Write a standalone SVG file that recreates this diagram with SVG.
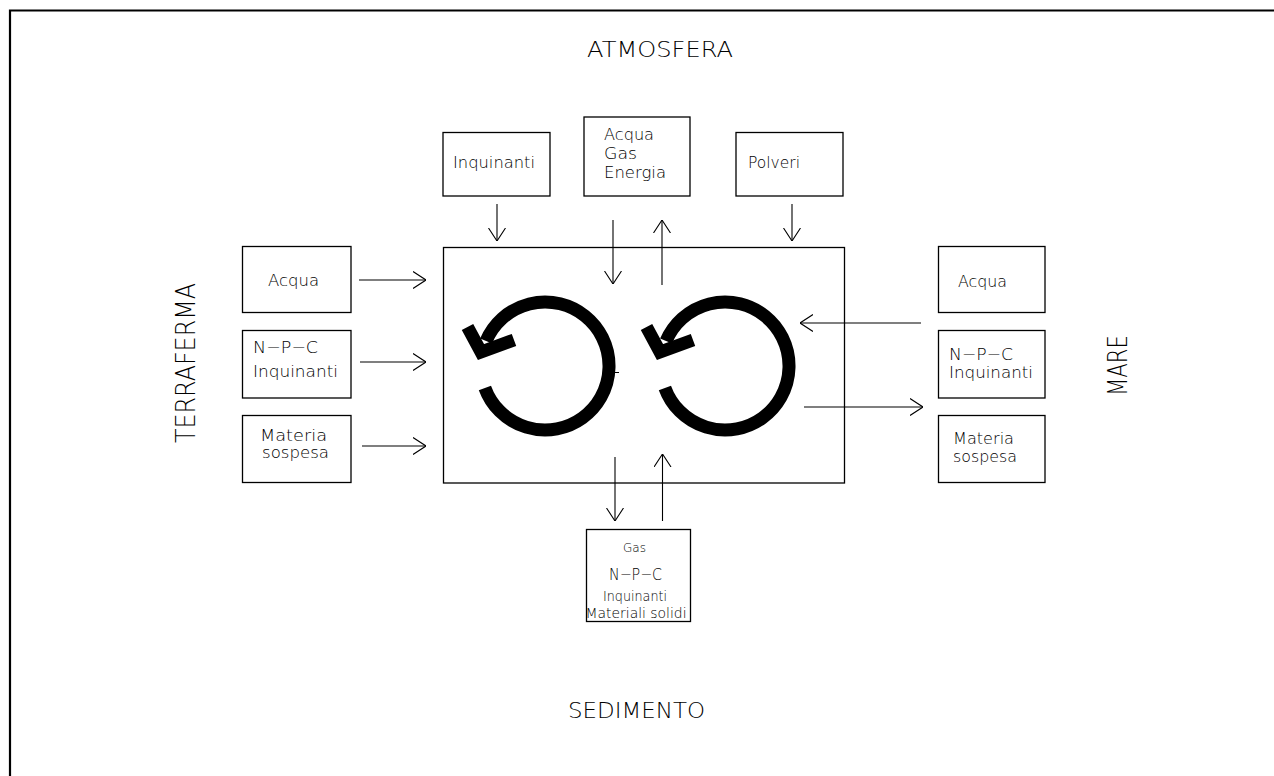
<svg xmlns="http://www.w3.org/2000/svg" width="1274" height="776" viewBox="0 0 1274 776">
<style>
.box{fill:none;stroke:#000;stroke-width:1.3}
.t{font-family:"DejaVu Sans","Liberation Sans",Arial,sans-serif;font-weight:200;fill:#000}
.c{fill:none;stroke:#000;stroke-width:1.1}
.cyc{fill:none;stroke:#000;stroke-width:13}
</style>
<defs>
<marker id="ah" markerUnits="userSpaceOnUse" viewBox="0 0 13 18" refX="13" refY="9" markerWidth="13" markerHeight="18" orient="auto">
<path d="M0,0.5 L13,9 L0,17.5" fill="none" stroke="#000" stroke-width="1.1"/>
</marker>
</defs>
<rect width="1274" height="776" fill="#fff"/>
<path d="M10,776 V10.5 H1274" fill="none" stroke="#000" stroke-width="2.2"/>

<text class="t" x="587" y="57" font-size="21" textLength="146" lengthAdjust="spacingAndGlyphs">ATMOSFERA</text>
<text class="t" x="568" y="718" font-size="21" textLength="137" lengthAdjust="spacingAndGlyphs">SEDIMENTO</text>
<text class="t" transform="translate(195,363) rotate(-90)" text-anchor="middle" font-size="27" textLength="160" lengthAdjust="spacingAndGlyphs">TERRAFERMA</text>
<text class="t" transform="translate(1127,365.5) rotate(-90)" text-anchor="middle" font-size="27" textLength="61" lengthAdjust="spacingAndGlyphs">MARE</text>

<g id="ecosistema">
<rect class="box" x="443.5" y="247.5" width="401" height="235.5"/>
<path class="cyc" d="M484.9,387.9 A64,64 0 1 0 486.1,341"/>
<polyline class="cyc" points="467.5,327 481,352 514,340" stroke-linejoin="miter"/>
<path class="cyc" d="M664.9,387.9 A64,64 0 1 0 666.1,341"/>
<polyline class="cyc" points="646.5,327 660,352 693,340" stroke-linejoin="miter"/>
<line x1="613" y1="372.5" x2="619" y2="372.5" stroke="#000" stroke-width="1"/>
</g>

<g id="atm-inquinanti">
<rect class="box" x="443" y="132.5" width="107" height="63.5"/>
<text class="t" x="453" y="168" font-size="16" textLength="82" lengthAdjust="spacingAndGlyphs">Inquinanti</text>
</g>
<g id="atm-acqua-gas-energia">
<rect class="box" x="584" y="117" width="106" height="79"/>
<text class="t" x="604" y="140" font-size="16" textLength="50" lengthAdjust="spacingAndGlyphs">Acqua</text>
<text class="t" x="604" y="158.5" font-size="16" textLength="33" lengthAdjust="spacingAndGlyphs">Gas</text>
<text class="t" x="604" y="177.5" font-size="16" textLength="62" lengthAdjust="spacingAndGlyphs">Energia</text>
</g>
<g id="atm-polveri">
<rect class="box" x="736" y="132.5" width="107" height="63.5"/>
<text class="t" x="748" y="168" font-size="16" textLength="52" lengthAdjust="spacingAndGlyphs">Polveri</text>
</g>

<g id="terra-acqua">
<rect class="box" x="242.5" y="246.5" width="108.5" height="66"/>
<text class="t" x="268" y="285.5" font-size="16" textLength="51" lengthAdjust="spacingAndGlyphs">Acqua</text>
</g>
<g id="terra-npc">
<rect class="box" x="242.5" y="330.5" width="108.5" height="67.5"/>
<text class="t" x="253" y="353" font-size="16" textLength="65" lengthAdjust="spacingAndGlyphs">N−P−C</text>
<text class="t" x="253" y="377" font-size="16" textLength="85" lengthAdjust="spacingAndGlyphs">Inquinanti</text>
</g>
<g id="terra-materia">
<rect class="box" x="242.5" y="415.5" width="108.5" height="67"/>
<text class="t" x="260" y="440.5" font-size="16" textLength="67" lengthAdjust="spacingAndGlyphs">Materia</text>
<text class="t" x="262" y="458" font-size="16" textLength="67" lengthAdjust="spacingAndGlyphs">sospesa</text>
</g>

<g id="mare-acqua">
<rect class="box" x="938.5" y="246.5" width="106.5" height="66"/>
<text class="t" x="958" y="287" font-size="16" textLength="49" lengthAdjust="spacingAndGlyphs">Acqua</text>
</g>
<g id="mare-npc">
<rect class="box" x="938.5" y="330.5" width="106.5" height="67.5"/>
<text class="t" x="949" y="360" font-size="16" textLength="64" lengthAdjust="spacingAndGlyphs">N−P−C</text>
<text class="t" x="949" y="378" font-size="16" textLength="84" lengthAdjust="spacingAndGlyphs">Inquinanti</text>
</g>
<g id="mare-materia">
<rect class="box" x="938.5" y="415.5" width="106.5" height="67"/>
<text class="t" x="953" y="444" font-size="15" textLength="61" lengthAdjust="spacingAndGlyphs">Materia</text>
<text class="t" x="953" y="461.5" font-size="15" textLength="64" lengthAdjust="spacingAndGlyphs">sospesa</text>
</g>

<g id="sedimento-box">
<rect class="box" x="586.5" y="529.5" width="104" height="92"/>
<text class="t" x="623" y="552" font-size="11.5" textLength="23" lengthAdjust="spacingAndGlyphs">Gas</text>
<text class="t" x="609" y="580" font-size="16" textLength="53" lengthAdjust="spacingAndGlyphs">N−P−C</text>
<text class="t" x="603" y="601" font-size="14.5" textLength="64" lengthAdjust="spacingAndGlyphs">Inquinanti</text>
<text class="t" x="585.5" y="617.5" font-size="14.5" textLength="101" lengthAdjust="spacingAndGlyphs">Materiali  solidi</text>
</g>

<g id="connectors">
<line class="c" x1="497" y1="204" x2="497" y2="241" marker-end="url(#ah)"/>
<line class="c" x1="613" y1="220" x2="613" y2="284" marker-end="url(#ah)"/>
<line class="c" x1="662" y1="285" x2="662" y2="220" marker-end="url(#ah)"/>
<line class="c" x1="792" y1="204" x2="792" y2="241" marker-end="url(#ah)"/>
<line class="c" x1="359" y1="280" x2="426" y2="280" marker-end="url(#ah)"/>
<line class="c" x1="360" y1="362" x2="426" y2="362" marker-end="url(#ah)"/>
<line class="c" x1="362" y1="446" x2="426" y2="446" marker-end="url(#ah)"/>
<line class="c" x1="921" y1="323" x2="800" y2="323" marker-end="url(#ah)"/>
<line class="c" x1="804" y1="407" x2="923" y2="407" marker-end="url(#ah)"/>
<line class="c" x1="615" y1="457" x2="615" y2="521" marker-end="url(#ah)"/>
<line class="c" x1="662.5" y1="521" x2="662.5" y2="454" marker-end="url(#ah)"/>
</g>
</svg>
